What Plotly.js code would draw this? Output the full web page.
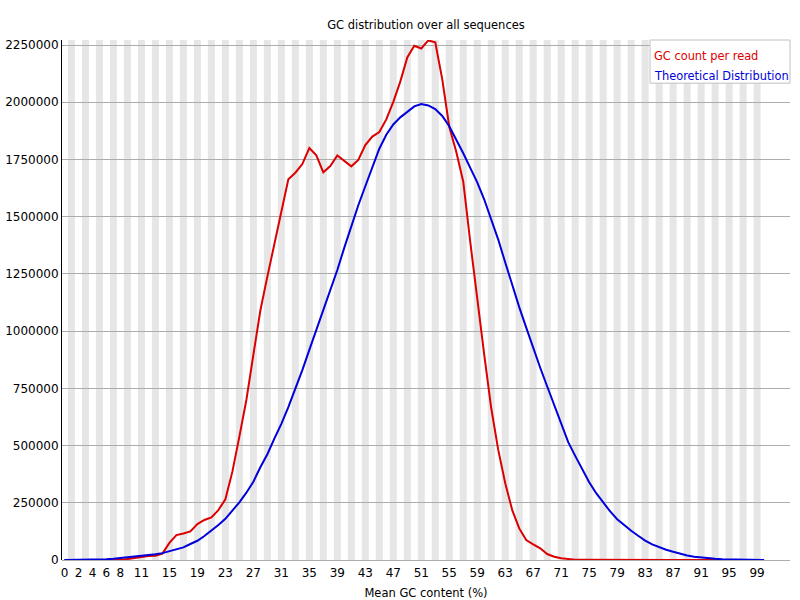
<!DOCTYPE html>
<html>
<head>
<meta charset="utf-8">
<script src="https://cdn.plot.ly/plotly-3.0.1.min.js"></script>
<style>
  body { margin: 0; background: #fff; }
  #gc-plot { width: 800px; height: 600px; }
</style>
</head>
<body>
<div id="gc-plot"></div>
<script>
// mean GC content categories (%)
const gcPercent = [
  0, 1, 2, 3, 4, 5, 6, 7, 8, 9, 10, 11, 12, 13, 14, 15, 16, 17, 18, 19,
  20, 21, 22, 23, 24, 25, 26, 27, 28, 29, 30, 31, 32, 33, 34, 35, 36, 37, 38, 39,
  40, 41, 42, 43, 44, 45, 46, 47, 48, 49, 50, 51, 52, 53, 54, 55, 56, 57, 58, 59,
  60, 61, 62, 63, 64, 65, 66, 67, 68, 69, 70, 71, 72, 73, 74, 75, 76, 77, 78, 79,
  80, 81, 82, 83, 84, 85, 86, 87, 88, 89, 90, 91, 92, 93, 94, 95, 96, 97, 98, 99, 100
];

// GC count per read
const gcCount = [
  0, 0, 0, 0, 0, 0, 0, 0, 500, 4000,
  9000, 15000, 17000, 19000, 28000, 75000, 109000, 116000, 125000, 157000,
  175000, 186000, 218000, 265000, 386000, 539000, 699000, 896000, 1090000, 1238000,
  1380000, 1520000, 1663000, 1692000, 1730000, 1800000, 1768000, 1694000, 1721000, 1768000,
  1743000, 1720000, 1748000, 1813000, 1850000, 1870000, 1925000, 2002000, 2090000, 2196000,
  2247000, 2235000, 2270000, 2262000, 2100000, 1893000, 1784000, 1653000, 1390000, 1136000,
  896000, 663000, 481000, 335000, 218000, 138000, 87000, 68000, 51000, 26000,
  14500, 7300, 3000, 1500, 800, 500, 300, 200, 150, 100,
  100, 50, 50, 50, 0, 0, 0, 0, 0, 0,
  0, 0, 0, 0, 0, 0, 0, 0, 0, 0, 0
];

// theoretical distribution
const theoretical = [
  0, 0, 0, 0, 500, 1000, 3000, 5000, 8000, 11000,
  15000, 18000, 21000, 25000, 30000, 38000, 46000, 55000, 70000, 84000,
  105000, 127000, 153000, 180000, 214000, 252000, 294000, 342000, 405000, 462000,
  530000, 595000, 668000, 745000, 830000, 918000, 1005000, 1090000, 1180000, 1267000,
  1365000, 1460000, 1550000, 1633000, 1718000, 1797000, 1858000, 1903000, 1934000, 1960000,
  1982000, 1992000, 1986000, 1970000, 1940000, 1895000, 1838000, 1777000, 1713000, 1650000,
  1575000, 1490000, 1400000, 1300000, 1200000, 1105000, 1015000, 925000, 840000, 758000,
  680000, 600000, 515000, 455000, 395000, 340000, 292000, 252000, 212000, 178000,
  152000, 128000, 106000, 85000, 68000, 55000, 45000, 36000, 27000, 20000,
  14000, 10000, 7000, 5000, 3000, 2500, 2000, 1000, 500, 300, 200
];

const xTickLabels = [0, 2, 4, 6, 8, 11, 15, 19, 23, 27, 31, 35, 39, 43, 47, 51, 55, 59, 63, 67, 71, 75, 79, 83, 87, 91, 95, 99];
const yTickValues = [0, 250000, 500000, 750000, 1000000, 1250000, 1500000, 1750000, 2000000, 2250000];
const seriesNames = ['GC count per read', 'Theoretical Distribution'];
const seriesColors = ['rgb(220,0,0)', 'rgb(0,0,220)'];

const font = 'DejaVu Sans, sans-serif';

// alternating grey bands, one per category
const stripes = gcPercent
  .filter((c) => c % 2 === 1)
  .map((c) => ({
    type: 'rect',
    xref: 'x',
    yref: 'paper',
    x0: c - 0.5,
    x1: c + 0.5,
    y0: 0,
    y1: 1,
    fillcolor: '#e6e6e6',
    line: { width: 0 },
    layer: 'below',
  }));

const traces = [gcCount, theoretical].map((vals, i) => ({
  x: gcPercent,
  y: vals,
  type: 'scatter',
  mode: 'lines',
  name: seriesNames[i],
  line: { color: seriesColors[i], width: 2 },
  hoverinfo: 'x+y',
}));

const legendBox = {
  type: 'rect',
  xref: 'paper',
  yref: 'paper',
  x0: 0.8077,
  x1: 1,
  y0: 0.917,
  y1: 1,
  fillcolor: '#ffffff',
  line: { color: '#c0c0c0', width: 1 },
  layer: 'above',
};

const legendText = seriesNames.map((name, i) => ({
  xref: 'paper',
  yref: 'paper',
  x: 0.8105,
  y: i === 0 ? 0.969 : 0.931,
  xanchor: 'left',
  yanchor: 'middle',
  text: name,
  showarrow: false,
  font: { family: font, size: 11.4, color: seriesColors[i] },
}));

const layout = {
  width: 800,
  height: 600,
  margin: { l: 62, r: 10, t: 40, b: 40 },
  paper_bgcolor: '#ffffff',
  plot_bgcolor: '#ffffff',
  showlegend: false,
  font: { family: font, size: 12, color: '#000' },
  title: {
    text: 'GC distribution over all sequences',
    font: { family: font, size: 11.5, color: '#000' },
    x: 0.5,
    xref: 'paper',
    y: 1 - 25 / 600,
    yanchor: 'middle',
  },
  xaxis: {
    range: [-0.35, 103.7],
    tickvals: xTickLabels,
    ticktext: xTickLabels.map(String),
    showgrid: false,
    zeroline: false,
    showline: false,
    ticks: '',
    ticklabelstandoff: 4,
    tickfont: { family: font, size: 12 },
    title: { text: 'Mean GC content (%)', font: { family: font, size: 11.5 }, standoff: 9 },
  },
  yaxis: {
    range: [0, 2272000],
    tickvals: yTickValues,
    ticktext: yTickValues.map(String),
    showgrid: true,
    gridcolor: '#acacac',
    gridwidth: 1,
    zeroline: true,
    zerolinecolor: '#acacac',
    zerolinewidth: 1,
    showline: true,
    linecolor: '#000',
    linewidth: 1,
    ticks: '',
    tickfont: { family: font, size: 12 },
  },
  shapes: stripes.concat([legendBox]),
  annotations: legendText,
};

Plotly.newPlot('gc-plot', traces, layout, { displayModeBar: false });
</script>
</body>
</html>
